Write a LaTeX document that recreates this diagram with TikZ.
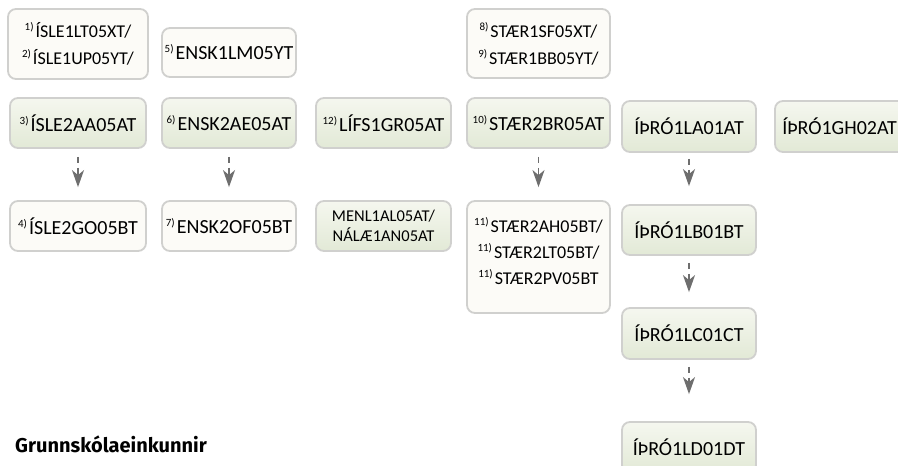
\documentclass[tikz,border=0pt]{standalone}
\usepackage{fontspec}
\setmainfont{Carlito}
\newfontfamily\headfont{Fira Sans}
\usetikzlibrary{arrows.meta}
\definecolor{boxborder}{HTML}{D0D0CE}
\definecolor{wfill}{HTML}{FCFBF7}
\definecolor{gtop}{HTML}{F5F7EF}
\definecolor{gbot}{HTML}{E2E9D6}
\definecolor{arrowgray}{HTML}{6E6E6E}
\newcommand\nr[1]{\raisebox{7pt}{\fontsize{11}{11}\selectfont #1}\hspace{2pt}}
\tikzset{
  basebox/.style={rectangle, rounded corners=8pt, draw=boxborder, line width=1.8pt,
    inner sep=0pt, align=center, text=black, font=\fontsize{20}{24}\selectfont},
  wbox/.style={basebox, fill=wfill},
  gbox/.style={basebox, top color=gtop, bottom color=gbot},
  conn/.style={draw=arrowgray, line width=1.6pt, dash pattern=on 6pt off 5pt on 60pt,
    -{Stealth[length=17pt,width=12pt,inset=5pt]}, shorten <=8pt}
}
\begin{document}
\begin{tikzpicture}[x=1pt,y=-1pt]
\useasboundingbox (0,0) rectangle (898,466);
\clip (0,0) rectangle (898,466);
\fill[white] (0,0) rectangle (898,466);
% row 0
\node[wbox, minimum width=140pt, minimum height=70pt, font=\fontsize{18}{27}\selectfont] (b1) at (78,44) {\nr{1)}ÍSLE1LT05XT/\\\nr{2)}ÍSLE1UP05YT/};
\node[wbox, minimum width=134pt, minimum height=49pt] (b5) at (229,52.5) {\nr{5)}ENSK1LM05YT};
\node[wbox, minimum width=143pt, minimum height=69pt, font=\fontsize{18}{27}\selectfont] (b8) at (538.5,43.5) {\nr{8)}STÆR1SF05XT/\\\nr{9)}STÆR1BB05YT/};
% row 1
\node[gbox, minimum width=136pt, minimum height=50pt] (b3) at (78,123) {\nr{3)}ÍSLE2AA05AT};
\node[gbox, minimum width=134pt, minimum height=50pt] (b6) at (229,123) {\nr{6)}ENSK2AE05AT};
\node[gbox, minimum width=135pt, minimum height=50pt] (b12) at (383.5,123) {\nr{12)}LÍFS1GR05AT};
\node[gbox, minimum width=143pt, minimum height=50pt] (b10) at (538.5,123) {\nr{10)}STÆR2BR05AT};
\node[gbox, minimum width=134pt, minimum height=51pt] (la) at (689,126.5) {ÍÞRÓ1LA01AT};
\node[gbox, minimum width=134pt, minimum height=51pt] (gh) at (842,126.5) {};
\node[anchor=east, inner sep=0pt, font=\fontsize{20}{24}\selectfont] (ght) at (897,126.5) {ÍÞRÓ1GH02AT};
% row 2
\node[wbox, minimum width=136pt, minimum height=50pt] (b4) at (78,226) {\nr{4)}ÍSLE2GO05BT};
\node[wbox, minimum width=134pt, minimum height=50pt] (b7) at (229,226) {\nr{7)}ENSK2OF05BT};
\node[gbox, minimum width=135pt, minimum height=50pt, font=\fontsize{16.5}{20}\selectfont] (menl) at (383.5,226) {MENL1AL05AT/\\NÁLÆ1AN05AT};
\node[wbox, minimum width=143pt, minimum height=112pt] (b11) at (538.5,257) {};
\node[font=\fontsize{18}{26}\selectfont, align=center, inner sep=0pt] (b11t) at (538.5,251) {\nr{11)}STÆR2AH05BT/\\\nr{11)}STÆR2LT05BT/\\\nr{11)}STÆR2PV05BT};
\node[gbox, minimum width=134pt, minimum height=50pt] (lb) at (689,230) {ÍÞRÓ1LB01BT};
\node[gbox, minimum width=134pt, minimum height=51pt] (lc) at (689,333.5) {ÍÞRÓ1LC01CT};
\node[gbox, minimum width=134pt, minimum height=51pt] (ld) at (689,447.5) {ÍÞRÓ1LD01DT};
% connectors
\draw[conn, shorten >=13pt] (b3.south) -- (b4.north);
\draw[conn, shorten >=13pt] (b6.south) -- (b7.north);
\draw[conn, shorten >=13pt] (b10.south) -- (b11.north);
\draw[conn, shorten >=18pt, shorten <=6pt] (la.south) -- (lb.north);
\draw[conn, shorten >=15pt, shorten <=7pt] (lb.south) -- (lc.north);
\draw[conn, shorten >=27pt, shorten <=7pt] (lc.south) -- (ld.north);
% label
\node[anchor=base west, inner sep=0pt, font=\headfont\bfseries\fontsize{20}{22}\selectfont] (grunn) at (15,452) {Grunnskólaeinkunnir};
\end{tikzpicture}
\end{document}
